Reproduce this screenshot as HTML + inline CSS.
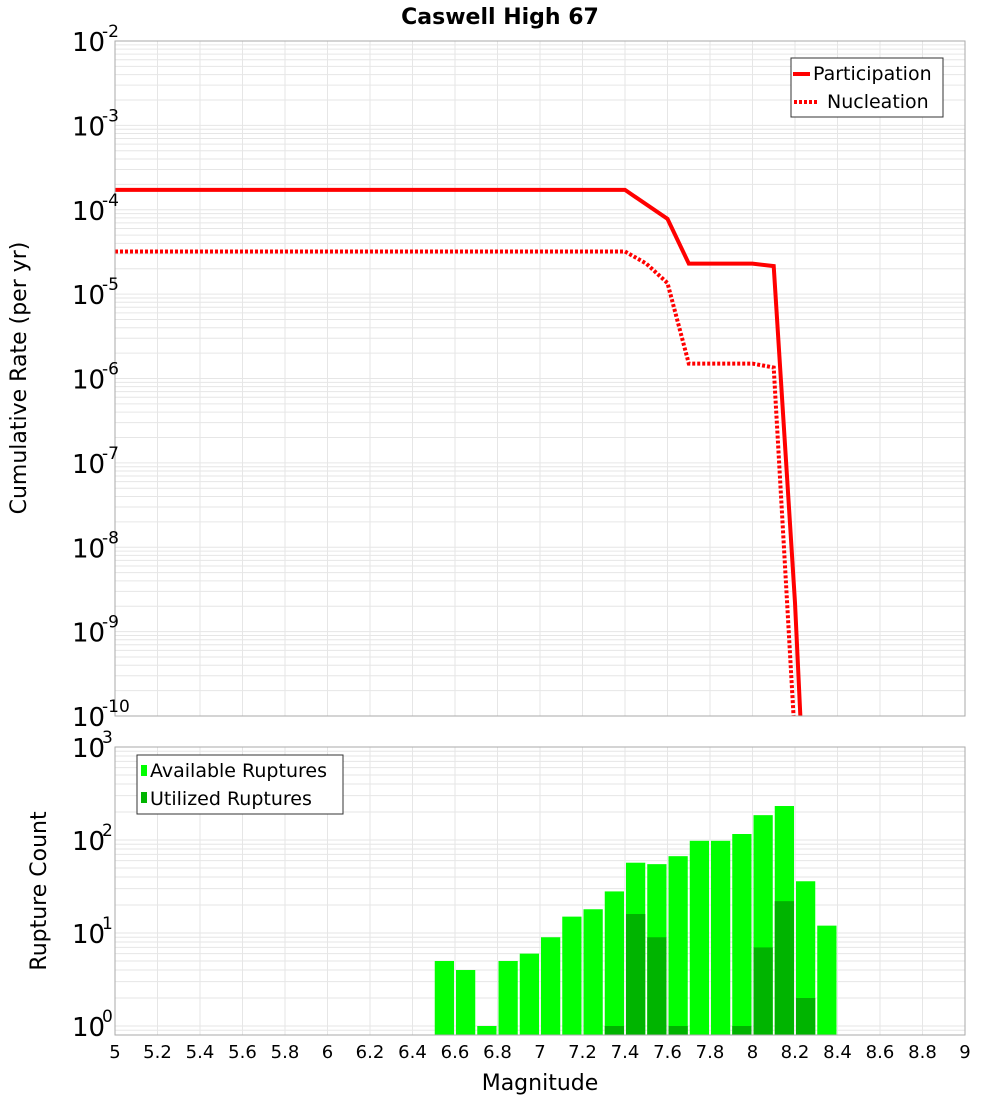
<!DOCTYPE html>
<html><head><meta charset="utf-8"><style>
body{margin:0;background:#fff;}
svg{display:block;font-family:"DejaVu Sans","Liberation Sans",sans-serif;}
</style></head><body>
<svg id="c" width="1000" height="1100" xmlns="http://www.w3.org/2000/svg"></svg>
<script>
const rateMags = [5, 7.4, 7.6, 7.7, 8.0, 8.1, 8.2, 8.3];
const participation = [1.72e-4, 1.72e-4, 7.8e-5, 2.3e-5, 2.3e-5, 2.15e-5, 2.2e-9, 1e-14];
const nucMags = [5, 7.4, 7.5, 7.6, 7.7, 8.0, 8.1, 8.2];
const nucleation = [3.2e-5, 3.2e-5, 2.3e-5, 1.35e-5, 1.5e-6, 1.5e-6, 1.35e-6, 5e-11];
const binCenters = [6.55,6.65,6.75,6.85,6.95,7.05,7.15,7.25,7.35,7.45,7.55,7.65,7.75,7.85,7.95,8.05,8.15,8.25,8.35];
const available = [5,4,1,5,6,9,15,18,28,57,55,67,98,98,116,185,232,36,12];
const utilized = [0,0,0,0,0,0,0,0,1,16,9,1,0,0,1,7,22,2,0];
const xTicks = [5,5.2,5.4,5.6,5.8,6,6.2,6.4,6.6,6.8,7,7.2,7.4,7.6,7.8,8,8.2,8.4,8.6,8.8,9];
const topExps = [-2,-3,-4,-5,-6,-7,-8,-9,-10];
const botExps = [3,2,1,0];

const NS="http://www.w3.org/2000/svg", svg=document.getElementById('c');
function el(t,a,p){const e=document.createElementNS(NS,t);for(const k in a)e.setAttribute(k,a[k]);(p||svg).appendChild(e);return e;}
const L=115,R=965;
const X=m=>L+(m-5)/4*(R-L);
const T0=41,T1=716; const YT=v=>T0+(-2-Math.log10(v))/8*(T1-T0);
const B0=747,B1=1035; const BDec=93; const YB=v=>1026-Math.log10(v)*BDec;

// clip paths
const defs=el('defs',{});
const cp1=el('clipPath',{id:'ct'},defs); el('rect',{x:L,y:T0,width:R-L,height:T1-T0},cp1);
const cp2=el('clipPath',{id:'cb'},defs); el('rect',{x:L,y:B0,width:R-L,height:B1-B0},cp2);

// title
const t=el('text',{x:500,y:24,'text-anchor':'middle','font-size':22,'font-weight':'bold'});t.textContent='Caswell High 67';


// grids
const gt=el('g',{stroke:'#e6e6e6','stroke-width':1,'clip-path':'url(#ct)'});

for(let e=-10;e<-2;e++)for(let k=1;k<10;k++){const y=YT(k*Math.pow(10,e));el('line',{x1:L,x2:R,y1:y,y2:y},gt);}
const gb=el('g',{stroke:'#e6e6e6','stroke-width':1,'clip-path':'url(#cb)'});

for(let e=-1;e<3;e++)for(let k=1;k<10;k++){const y=YB(k*Math.pow(10,e));el('line',{x1:L,x2:R,y1:y,y2:y},gb);}
xTicks.forEach(m=>{el('line',{x1:X(m),x2:X(m),y1:T0,y2:T1},gt);el('line',{x1:X(m),x2:X(m),y1:B0,y2:B1},gb);});

// top lines
function path(xs,ys){return xs.map((m,i)=>(i?'L':'M')+X(m).toFixed(1)+','+YT(ys[i]).toFixed(1)).join('');}
const pl=el('path',{d:path(rateMags,participation),fill:'none',stroke:'#ff0000','stroke-width':4,'clip-path':'url(#ct)'});

const nl=el('path',{d:path(nucMags,nucleation),fill:'none',stroke:'#ff0000','stroke-width':4,'stroke-dasharray':'3,2','clip-path':'url(#ct)'});


// bars
const bw=X(5.1)-X(5);
binCenters.forEach((c,i)=>{
  if(available[i]>0){const y=YB(available[i]);const r=el('rect',{x:X(c)-bw/2+1,y:y,width:bw-2,height:B1-y,fill:'#00ff00','clip-path':'url(#cb)'});
  }
  if(utilized[i]>0){const y=YB(utilized[i]);const r=el('rect',{x:X(c)-bw/2+1,y:y,width:bw-2,height:B1-y,fill:'#00b400','clip-path':'url(#cb)'});
  }
});

// frames
const f1=el('rect',{x:L,y:T0,width:R-L,height:T1-T0,fill:'none',stroke:'#aaaaaa'});

const f2=el('rect',{x:L,y:B0,width:R-L,height:B1-B0,fill:'none',stroke:'#aaaaaa'});


// y tick labels
function powLabel(y,e,name){const g=el('g',{});
  
  const a=el('text',{x:72,y:y+10,'font-size':26},g);a.textContent='10';
  const b=el('text',{x:102,y:y-4,'font-size':17},g);b.textContent=String(e);}
topExps.forEach(e=>powLabel(YT(Math.pow(10,e)),e,'top-y-tick-label'));
botExps.forEach(e=>powLabel(YB(Math.pow(10,e)),e,'bottom-y-tick-label'));

// x tick labels
xTicks.forEach(m=>{const tx=el('text',{x:X(m),y:1058,'text-anchor':'middle','font-size':18});tx.textContent=String(m);
  });

// axis titles
let a=el('text',{x:540,y:1090,'text-anchor':'middle','font-size':22});a.textContent='Magnitude';

a=el('text',{x:0,y:0,'text-anchor':'middle','font-size':22,transform:'translate(26,378) rotate(-90)'});a.textContent='Cumulative Rate (per yr)';

a=el('text',{x:0,y:0,'text-anchor':'middle','font-size':22,transform:'translate(46,891) rotate(-90)'});a.textContent='Rupture Count';


// top legend
const lg=el('g',{});
el('rect',{x:791,y:58,width:152,height:59,fill:'#fff',stroke:'#333'},lg);
el('line',{x1:793,x2:810,y1:74,y2:74,stroke:'#f00','stroke-width':4},lg);
el('line',{x1:794,x2:819,y1:102,y2:102,stroke:'#f00','stroke-width':4,'stroke-dasharray':'3,2'},lg);
let lt=el('text',{x:813,y:80,'font-size':19},lg);lt.textContent='Participation';
lt=el('text',{x:827,y:108,'font-size':19},lg);lt.textContent='Nucleation';

// bottom legend
const lb=el('g',{});
el('rect',{x:137,y:755,width:206,height:59,fill:'#fff',stroke:'#333'},lb);
el('rect',{x:141,y:765,width:6,height:11,fill:'#00ff00'},lb);
el('rect',{x:141,y:792,width:6,height:11,fill:'#00b400'},lb);
lt=el('text',{x:150,y:777,'font-size':19},lb);lt.textContent='Available Ruptures';
lt=el('text',{x:150,y:805,'font-size':19},lb);lt.textContent='Utilized Ruptures';
</script>
</body></html>
